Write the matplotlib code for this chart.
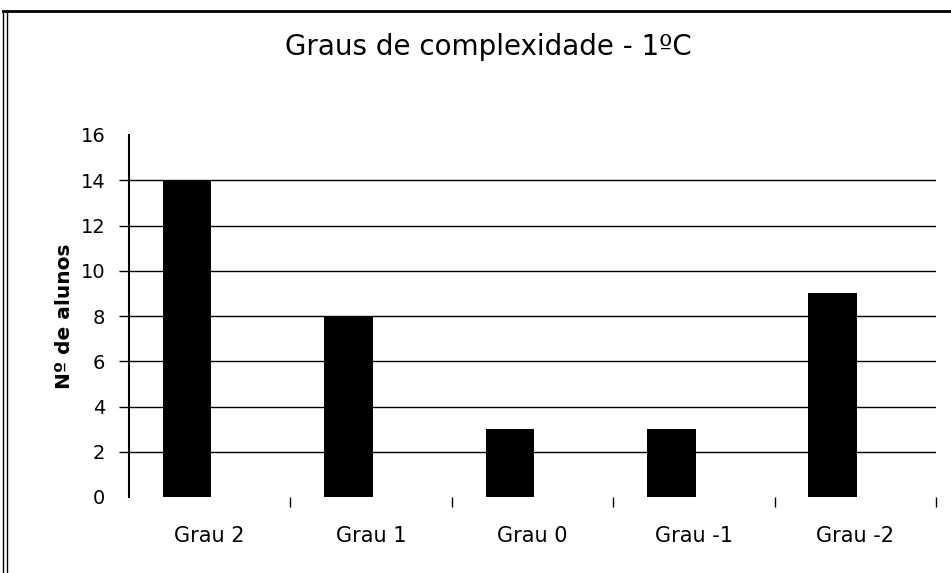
import numpy as np
import matplotlib.pyplot as plt
from matplotlib.lines import Line2D

plt.rcParams['font.family'] = ['DejaVu Sans']

categorias = ['Grau 2', 'Grau 1', 'Grau 0', 'Grau -1', 'Grau -2']
alunos = [14, 8, 3, 3, 9]

fig = plt.figure(figsize=(9.51, 5.73), dpi=100)
ax = fig.add_axes([129/951, 1 - 497/573, (936 - 129)/951, (497 - 135)/573])

x = np.arange(len(categorias))
ax.bar(x - 0.14, alunos, width=0.3, color='black', zorder=3)

ax.set_xlim(-0.5, len(categorias) - 0.5)
ax.set_ylim(0, 16)
ax.set_yticks(range(0, 17, 2))
ax.set_xticks(x)
ax.set_xticklabels(categorias, fontsize=15)
ax.set_xticks(np.arange(len(categorias)) + 0.5, minor=True)
ax.tick_params(axis='x', which='major', length=0, pad=21)
ax.tick_params(axis='x', which='minor', length=7, width=1, direction='out', color='black')
ax.tick_params(axis='y', length=7, width=1, labelsize=14, pad=10)

# linhas de grade só de 2 a 14
for v in range(2, 16, 2):
    ax.axhline(v, color='black', linewidth=1, zorder=1)
ticks_y = ax.yaxis.get_major_ticks()
ticks_y[0].tick1line.set_visible(False)
ticks_y[-1].tick1line.set_visible(False)

for s in ['top', 'right', 'bottom']:
    ax.spines[s].set_visible(False)
ax.spines['left'].set_linewidth(1.5)

ax.set_ylabel('Nº de alunos', fontsize=14.5, fontweight='bold', labelpad=5)

fig.text(488/951, 1 - 47/573, 'Graus de complexidade - 1ºC', fontsize=20,
         ha='center', va='center')

# moldura da figura
fig.add_artist(Line2D([3/951, 1], [1 - 11/573, 1 - 11/573], color='black', linewidth=2, transform=fig.transFigure))
fig.add_artist(Line2D([3/951, 3/951], [0, 1 - 11/573], color='black', linewidth=1, transform=fig.transFigure))
fig.add_artist(Line2D([7/951, 7/951], [0, 1 - 11/573], color='black', linewidth=1, transform=fig.transFigure))

fig.savefig('out.png', dpi=100)
